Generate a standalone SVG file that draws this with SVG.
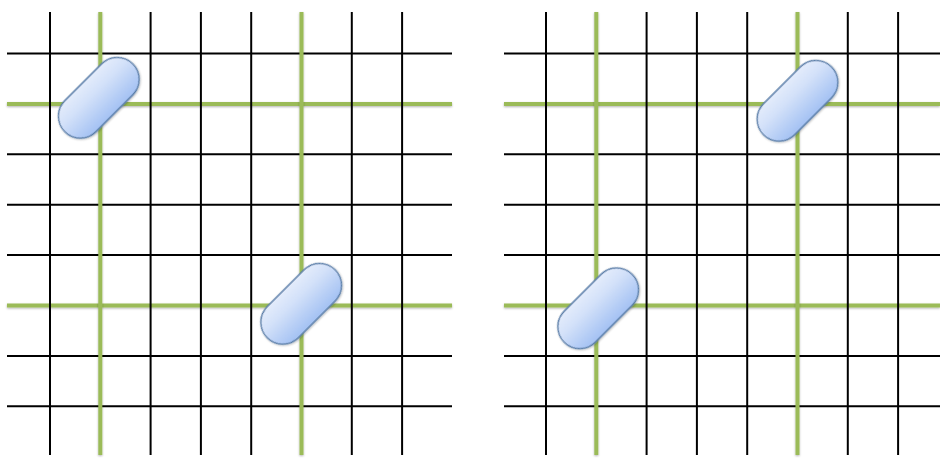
<svg xmlns="http://www.w3.org/2000/svg" width="940" height="458" viewBox="0 0 940 458">
  <defs>
    <linearGradient id="capFill" x1="0" y1="0" x2="0" y2="1">
      <stop offset="0" stop-color="#e4ecfb"/>
      <stop offset="0.35" stop-color="#d3e1f9"/>
      <stop offset="1" stop-color="#a3c1f3"/>
    </linearGradient>
    <filter id="shadow" x="-20%" y="-20%" width="140%" height="140%">
      <feGaussianBlur in="SourceAlpha" stdDeviation="1.2"/>
      <feOffset dx="0" dy="1.2" result="b"/>
      <feComponentTransfer><feFuncA type="linear" slope="0.3"/></feComponentTransfer>
      <feMerge><feMergeNode/><feMergeNode in="SourceGraphic"/></feMerge>
    </filter>
    <filter id="gshadow" x="-5%" y="-50%" width="110%" height="200%">
      <feGaussianBlur in="SourceAlpha" stdDeviation="0.8"/>
      <feOffset dx="0" dy="1" result="b"/>
      <feComponentTransfer><feFuncA type="linear" slope="0.3"/></feComponentTransfer>
      <feMerge><feMergeNode/><feMergeNode in="SourceGraphic"/></feMerge>
    </filter>
    <rect id="capsule" x="-48" y="-22" width="96" height="44" rx="22" ry="22"/>
  </defs>
  <style>
    .blk { stroke: #000; stroke-width: 2; fill: none; }
    .grn { stroke: #9bbb59; stroke-width: 4; fill: none; filter: url(#gshadow); }
    .cap { fill: url(#capFill); stroke: #5a7ea9; stroke-width: 1.3; filter: url(#shadow); }
  </style>
  <rect width="940" height="458" fill="#fff"/>

  <g id="grid-left">
    <g class="blk">
      <line x1="7" y1="53.5" x2="452" y2="53.5"/>
      <line x1="7" y1="154.3" x2="452" y2="154.3"/>
      <line x1="7" y1="204.7" x2="452" y2="204.7"/>
      <line x1="7" y1="255.1" x2="452" y2="255.1"/>
      <line x1="7" y1="355.9" x2="452" y2="355.9"/>
      <line x1="7" y1="406.3" x2="452" y2="406.3"/>
    </g>
    <g class="grn">
      <line x1="7" y1="103.9" x2="452" y2="103.9"/>
      <line x1="7" y1="305.5" x2="452" y2="305.5"/>
    </g>
    <g class="blk">
      <line x1="50" y1="12" x2="50" y2="455"/>
      <line x1="150.6" y1="12" x2="150.6" y2="455"/>
      <line x1="200.9" y1="12" x2="200.9" y2="455"/>
      <line x1="251.2" y1="12" x2="251.2" y2="455"/>
      <line x1="351.8" y1="12" x2="351.8" y2="455"/>
      <line x1="402.1" y1="12" x2="402.1" y2="455"/>
    </g>
    <g class="grn">
      <line x1="100.3" y1="12" x2="100.3" y2="455"/>
      <line x1="301.5" y1="12" x2="301.5" y2="455"/>
    </g>
  </g>

  <g id="grid-right">
    <g class="blk">
      <line x1="504" y1="53.5" x2="940" y2="53.5"/>
      <line x1="504" y1="154.3" x2="940" y2="154.3"/>
      <line x1="504" y1="204.7" x2="940" y2="204.7"/>
      <line x1="504" y1="255.1" x2="940" y2="255.1"/>
      <line x1="504" y1="355.9" x2="940" y2="355.9"/>
      <line x1="504" y1="406.3" x2="940" y2="406.3"/>
    </g>
    <g class="grn">
      <line x1="504" y1="103.9" x2="940" y2="103.9"/>
      <line x1="504" y1="305.5" x2="940" y2="305.5"/>
    </g>
    <g class="blk">
      <line x1="546" y1="12" x2="546" y2="455"/>
      <line x1="646.6" y1="12" x2="646.6" y2="455"/>
      <line x1="696.9" y1="12" x2="696.9" y2="455"/>
      <line x1="747.2" y1="12" x2="747.2" y2="455"/>
      <line x1="847.8" y1="12" x2="847.8" y2="455"/>
      <line x1="898.1" y1="12" x2="898.1" y2="455"/>
    </g>
    <g class="grn">
      <line x1="596.3" y1="12" x2="596.3" y2="455"/>
      <line x1="797.5" y1="12" x2="797.5" y2="455"/>
    </g>
  </g>

  <g id="capsule-left-1"><use href="#capsule" class="cap" transform="translate(98.8 97.8) rotate(-45)"/></g>
  <g id="capsule-left-2"><use href="#capsule" class="cap" transform="translate(301.2 303.8) rotate(-45)"/></g>
  <g id="capsule-right-1"><use href="#capsule" class="cap" transform="translate(797.5 100.8) rotate(-45)"/></g>
  <g id="capsule-right-2"><use href="#capsule" class="cap" transform="translate(598.2 308.3) rotate(-45)"/></g>
  <g id="connectors"/>
</svg>
